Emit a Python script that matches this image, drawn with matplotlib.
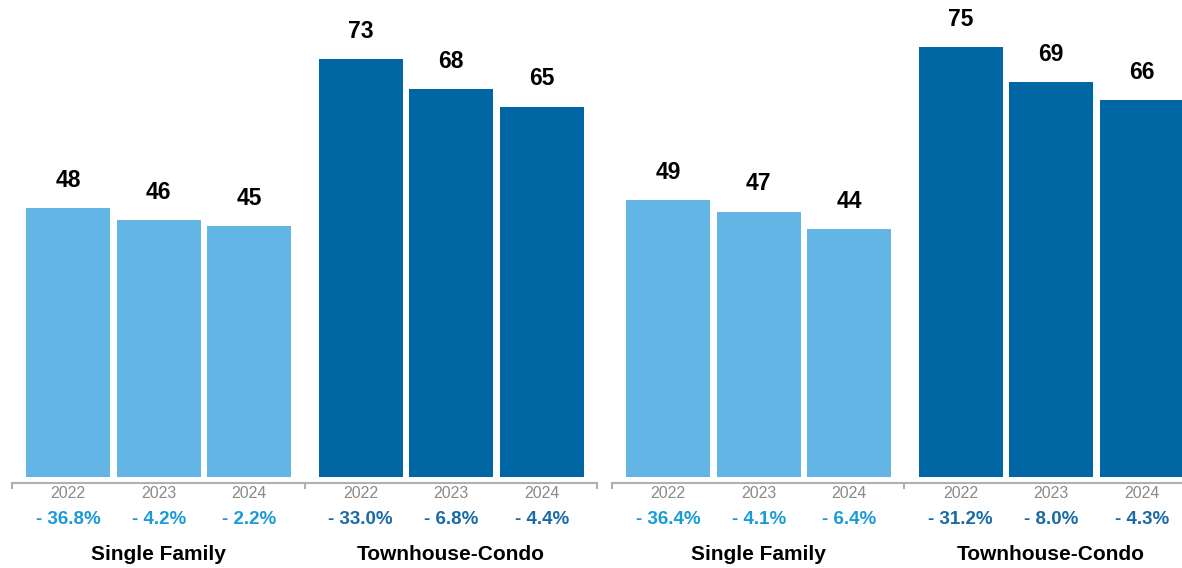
import matplotlib
matplotlib.use('Agg')
import matplotlib.pyplot as plt

plt.rcParams['font.family'] = ['Liberation Sans', 'DejaVu Sans']

years = ['2022', '2023', '2024']
groups = ['Single Family', 'Townhouse-Condo']

left_single = [48, 46, 45]
left_town = [73, 68, 65]
left_single_pct = ['- 36.8%', '- 4.2%', '- 2.2%']
left_town_pct = ['- 33.0%', '- 6.8%', '- 4.4%']

right_single = [49, 47, 44]
right_town = [75, 69, 66]
right_single_pct = ['- 36.4%', '- 4.1%', '- 6.4%']
right_town_pct = ['- 31.2%', '- 8.0%', '- 4.3%']

light = '#62b5e5'
dark = '#0066a4'
light_txt = '#1b9ad8'
dark_txt = '#1a6aa8'
grey = '#b0b0b0'

W, H = 1182, 568
fig = plt.figure(figsize=(W / 100, H / 100), dpi=100)

group_w = 3.23
bar_w = 0.93
first = 0.62


def panel(left_px, ymin, ymax, single, town, single_pct, town_pct):
    ax = fig.add_axes([left_px / W, (H - 477) / H, 585 / W, 477 / H])
    ax.set_xlim(0, 2 * group_w)
    ax.set_ylim(ymin, ymax)
    series = [(single, single_pct, light, light_txt), (town, town_pct, dark, dark_txt)]
    for g, (vals, pcts, col, tcol) in enumerate(series):
        xs = [g * group_w + first + i for i in range(3)]
        ax.bar(xs, [v - ymin for v in vals], bottom=ymin, width=bar_w, color=col)
        for x, v, yr, p in zip(xs, vals, years, pcts):
            ax.annotate(str(v), (x, v), xytext=(0, 28), textcoords='offset pixels',
                        ha='center', va='center', fontsize=16.5, fontweight='bold')
            ax.annotate(yr, (x, 0), xycoords=('data', 'axes fraction'), xytext=(0, -17),
                        textcoords='offset pixels', ha='center', va='center',
                        fontsize=11.5, color='#8a8a8a')
            ax.annotate(p, (x, 0), xycoords=('data', 'axes fraction'), xytext=(0, -42),
                        textcoords='offset pixels', ha='center', va='center',
                        fontsize=13.5, fontweight='bold', color=tcol)
        ax.annotate(groups[g], (g * group_w + first + 1, 0), xycoords=('data', 'axes fraction'),
                    xytext=(0, -78), textcoords='offset pixels', ha='center', va='center',
                    fontsize=15, fontweight='bold')
    for s in ['top', 'left', 'right']:
        ax.spines[s].set_visible(False)
    ax.spines['bottom'].set_position(('outward', 4))
    ax.spines['bottom'].set_color(grey)
    ax.spines['bottom'].set_linewidth(1.5)
    ax.set_xticks([0, group_w, 2 * group_w])
    ax.set_xticklabels([])
    ax.tick_params(axis='x', length=4.5, width=1.5, color=grey)
    ax.set_yticks([])
    ax.patch.set_alpha(0)
    return ax


panel(12, 2.9, 2.9 + 477 / 5.96, left_single, left_town, left_single_pct, left_town_pct)
panel(612, 1.9, 1.9 + 477 / 5.88, right_single, right_town, right_single_pct, right_town_pct)

fig.savefig('out.png', dpi=100)
